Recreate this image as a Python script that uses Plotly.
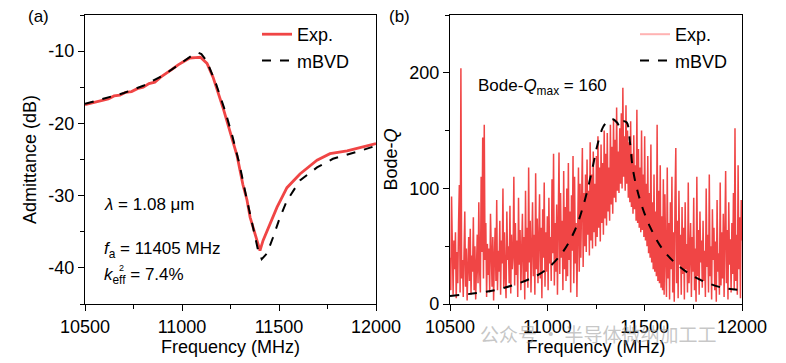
import plotly.graph_objects as go

# ---------------- data ----------------
# (a) admittance
freq_a_exp = [10500, 10530, 10560, 10590, 10620, 10650, 10680, 10710, 10740, 10770,
              10800, 10830, 10860, 10890, 10920, 10950, 10980, 11010, 11040, 11070,
              11095, 11129, 11160, 11211, 11247, 11284, 11314, 11335, 11351, 11387,
              11402, 11418, 11454, 11490, 11541, 11608, 11696, 11763, 11851, 11925, 12000]
adm_exp = [-17.4, -17.2, -17.1, -16.8, -16.6, -16.2, -16.1, -15.7, -15.6, -15.2,
           -15.0, -14.5, -14.3, -13.6, -13.1, -12.5, -11.9, -11.4, -10.95, -10.9,
           -10.85, -11.7, -13.6, -17.8, -21.0, -24.5, -28.5, -30.6, -33.0, -36.2,
           -37.6, -36.2, -33.9, -31.6, -28.9, -27.0, -25.1, -24.2, -23.8, -23.3, -22.8]

freq_a_bvd = [10500, 10600, 10700, 10800, 10900, 10950, 11000, 11040, 11065, 11082,
              11100, 11120, 11140, 11175, 11225, 11260, 11295, 11330, 11360, 11390,
              11411, 11438, 11469, 11505, 11541, 11608, 11696, 11778, 11918, 12000]
adm_bvd = [-17.3, -16.6, -15.8, -14.8, -13.4, -12.5, -11.6, -10.8, -10.35, -10.2,
           -10.4, -11.1, -12.2, -14.5, -18.5, -21.8, -25.5, -30.0, -33.8, -37.3,
           -38.8, -38.0, -35.8, -33.0, -30.7, -27.9, -26.1, -24.9, -23.8, -23.1]

# (b) Bode-Q, measured every 4 MHz from 10500 to 12000
freq_b_exp = list(range(10500, 12001, 4))
q_exp = [
    40, 12, 93, 25, 8, 55, 30, 62, 5, 45, 18, 70, 103, 10, 204, 22, 38, 6, 60, 80, 15, 48, 3, 35, 58,
    20, 65, 8, 42, 28, 75, 12, 50, 4, 36, 60, 18, 88, 30, 10, 110, 45, 144, 22, 155, 38, 70, 6, 52, 25,
    48, 10, 78, 32, 15, 58, 3, 40, 66, 20, 90, 12, 46, 28, 72, 8, 55, 35, 100, 14, 62, 24, 5, 80, 38,
    50, 18, 85, 9, 60, 30, 42, 110, 16, 70, 25, 55, 6, 92, 34, 64, 12, 48, 78, 20, 58, 4, 98, 28, 66,
    14, 118, 36, 72, 10, 52, 88, 24, 60, 8, 113, 30, 74, 18, 56, 95, 22, 66, 5, 82, 40, 105, 15, 62, 28,
    76, 12, 92, 35, 58, 20, 108, 44, 130, 16, 70, 28, 86, 8, 64, 131, 26, 96, 40, 72, 12, 115, 30, 84, 20,
    100, 24, 122, 38, 80, 10, 94, 46, 128, 18, 110, 35, 70, 6, 90, 118, 28, 104, 40, 86, 135, 32, 96, 50, 112,
    45, 125, 60, 98, 42, 140, 55, 112, 48, 132, 62, 104, 50, 128, 58, 145, 66, 118, 54, 138, 70, 122, 60, 150, 74,
    130, 68, 148, 80, 118, 72, 155, 86, 136, 78, 160, 92, 142, 88, 170, 98, 132, 96, 152, 104, 165, 100, 187, 110, 145,
    98, 172, 104, 150, 92, 140, 88, 158, 84, 130, 78, 146, 82, 120, 72, 168, 70, 134, 66, 118, 62, 150, 64, 112, 58,
    145, 55, 104, 50, 128, 44, 96, 40, 138, 36, 88, 30, 112, 28, 80, 24, 155, 20, 98, 18, 120, 14, 76, 12, 108,
    8, 95, 40, 6, 118, 22, 70, 4, 88, 30, 110, 10, 62, 2, 92, 135, 18, 72, 5, 98, 34, 60, 8, 84, 26,
    66, 4, 88, 30, 52, 10, 105, 18, 44, 70, 6, 58, 28, 92, 12, 48, 2, 110, 24, 64, 8, 80, 36, 55, 14,
    72, 20, 46, 6, 100, 32, 60, 10, 112, 24, 50, 4, 82, 38, 66, 12, 54, 2, 90, 28, 44, 8, 105, 16, 62,
    22, 78, 6, 50, 115, 18, 64, 4, 88, 34, 56, 10, 70, 26, 96, 12, 152, 20, 60, 8, 120, 30, 75, 5, 90,
    55,
]

freq_b_bvd = [10500, 10731, 10900, 10988, 11075, 11142, 11193, 11235, 11255, 11286,
              11310, 11333, 11358, 11373, 11390, 11408, 11425, 11440, 11476, 11527,
              11594, 11681, 11784, 11902, 12000]
q_bvd = [7, 12, 21, 29, 44, 64, 90, 120, 136, 153,
         158, 160, 157, 153, 158, 157, 139, 116, 90, 67,
         47, 32, 21, 14, 12]

x_ticks = [10500, 11000, 11500, 12000]
x_ticktext = ["10500", "11000", "11500", "12000"]
ya_ticks = [-40, -30, -20, -10]
ya_ticktext = ["-40", "-30", "-20", "-10"]
yb_ticks = [0, 100, 200]
yb_ticktext = ["0", "100", "200"]

# ---------------- figure ----------------
RED = "#F04545"
PINK = "#FFB3B3"
FONT = "Liberation Sans, Arial, sans-serif"
OFF = 8                      # default page body margin
W, H = 786 - OFF, 363 - OFF
MT, MB = 15 - OFF, 363 - 304
PH = H - MT - MB


def px(x):                   # screen x -> paper x
    return (x - OFF) / W


def py(y):                   # screen y -> paper y
    return (H - MB - (y - OFF)) / PH


fig = go.Figure()

fig.add_trace(go.Scatter(x=freq_a_exp, y=adm_exp, mode="lines", name="Exp.",
                         line=dict(color=RED, width=2.8), xaxis="x", yaxis="y",
                         legend="legend"))
fig.add_trace(go.Scatter(x=freq_a_bvd, y=adm_bvd, mode="lines", name="mBVD",
                         line=dict(color="black", width=2, dash="dash"),
                         xaxis="x", yaxis="y", legend="legend"))
fig.add_trace(go.Scatter(x=freq_b_exp, y=q_exp, mode="lines", name="Exp.",
                         line=dict(color=RED, width=1.5), xaxis="x2", yaxis="y2",
                         showlegend=False))
# legend sample for the thin, light experimental trace in (b)
fig.add_trace(go.Scatter(x=[None], y=[None], mode="lines", name="Exp.",
                         line=dict(color=PINK, width=2), xaxis="x2", yaxis="y2",
                         legend="legend2"))
fig.add_trace(go.Scatter(x=freq_b_bvd, y=q_bvd, mode="lines", name="mBVD",
                         line=dict(color="black", width=2, dash="dash"),
                         line_shape="spline",
                         xaxis="x2", yaxis="y2", legend="legend2"))

axis_common = dict(showline=True, linecolor="black", linewidth=1.3, mirror=True,
                   ticks="outside", ticklen=6, tickwidth=1.3, tickcolor="black",
                   showgrid=False, zeroline=False, automargin=False,
                   tickfont=dict(size=18, color="black", family=FONT),
                   title_font=dict(size=18, color="black", family=FONT))

minor_x = dict(dtick=250, ticklen=3.5, tickwidth=1.2, tickcolor="black", ticks="outside")

fig.update_layout(
    width=W, height=H,
    margin=dict(l=0, r=0, t=MT, b=MB, autoexpand=False),
    paper_bgcolor="white", plot_bgcolor="white",
    font=dict(family=FONT, color="black", size=18),
    xaxis=dict(domain=[px(85), px(376)], range=[10500, 12000],
               tickvals=x_ticks, ticktext=x_ticktext, minor=minor_x,
               title=dict(text="Frequency (MHz)", standoff=2), anchor="y", **axis_common),
    yaxis=dict(domain=[0, 1], range=[-45, -5],
               tickvals=ya_ticks, ticktext=ya_ticktext,
               minor=dict(dtick=5, ticklen=3.5, tickwidth=1.2, tickcolor="black", ticks="outside"),
               title=dict(text="Admittance (dB)", standoff=6), anchor="x", **axis_common),
    xaxis2=dict(domain=[px(450), px(742)], range=[10500, 12000],
                tickvals=x_ticks, ticktext=x_ticktext, minor=minor_x,
                title=dict(text="Frequency (MHz)", standoff=2), anchor="y2", **axis_common),
    yaxis2=dict(domain=[0, 1], range=[0, 250],
                tickvals=yb_ticks, ticktext=yb_ticktext,
                minor=dict(dtick=50, ticklen=3.5, tickwidth=1.2, tickcolor="black", ticks="outside"),
                title=dict(text="Bode-<i>Q</i>", standoff=6), anchor="x2", **axis_common),
    legend=dict(x=px(257), y=py(16), xanchor="left", yanchor="top",
                bgcolor="rgba(0,0,0,0)", font=dict(size=18, family=FONT),
                tracegroupgap=0, itemwidth=30),
    legend2=dict(x=px(635), y=py(16), xanchor="left", yanchor="top",
                 bgcolor="rgba(0,0,0,0)", font=dict(size=18, family=FONT),
                 tracegroupgap=0, itemwidth=30),
)

ann = []


def text(x, y, s, size=17, xanchor="left", color="black", fam=FONT):
    ann.append(dict(x=px(x), y=py(y), xref="paper", yref="paper", text=s,
                    showarrow=False, xanchor=xanchor, yanchor="middle",
                    font=dict(size=size, color=color, family=fam)))


text(26, 17, "(a)", size=17)
text(387, 17, "(b)", size=17)
text(102, 204, "<i>λ</i> = 1.08 μm")
text(102, 250, "<i>f</i><sub>a</sub> = 11405 MHz")
text(102, 276, "<i>k</i><sub>eff</sub> = 7.4%")
text(117, 268, "2", size=9)
text(476, 87, "Bode-<i>Q</i><sub>max</sub> = 160")
text(478, 333, "公众号 · 半导体微纳加工工", size=19,
     color="rgba(150,150,150,0.55)", fam="Noto Sans CJK SC")

fig.update_layout(annotations=ann)

fig.write_html("out.html")
